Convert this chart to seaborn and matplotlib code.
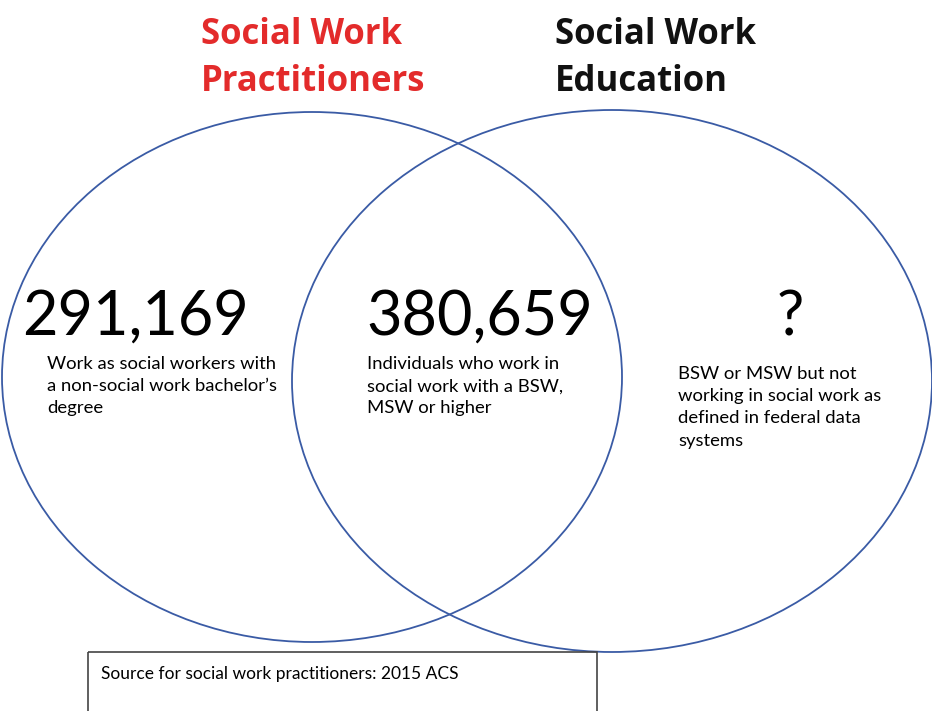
import matplotlib.pyplot as plt
import seaborn as sns
from matplotlib.patches import Ellipse, Rectangle

# Venn content
set_titles = ["Social Work\nPractitioners", "Social Work\nEducation"]
set_title_colors = ["#e32b2b", "#111111"]
region_counts = ["291,169", "380,659", "?"]
region_notes = [
    "Work as social workers with\na non-social work bachelor\u2019s\ndegree",
    "Individuals who work in\nsocial work with a BSW,\nMSW or higher",
    "BSW or MSW but not\nworking in social work as\ndefined in federal data\nsystems",
]
source_note = "Source for social work practitioners: 2015 ACS"

sns.set_theme(style="white")
plt.rcParams['font.family'] = ['Lato', 'DejaVu Sans']

fig = plt.figure(figsize=(9.32, 7.11), dpi=100)
ax = fig.add_axes([0, 0, 1, 1])
ax.set_xlim(0, 932)
ax.set_ylim(711, 0)
ax.set_axis_off()

edge = "#3a5ba5"
# two overlapping ellipses (pixel coords)
ax.add_patch(Ellipse((312, 377), 620, 530, fill=False, edgecolor=edge, linewidth=1.3))
ax.add_patch(Ellipse((612, 381), 640, 542, fill=False, edgecolor=edge, linewidth=1.3))

# set titles
for (x, y), txt, col in zip([(201, 17), (555, 17)], set_titles, set_title_colors):
    ax.text(x, y, txt, color=col, fontsize=25, fontweight='bold', ha='left', va='top',
            linespacing=1.42, family=['Open Sans', 'DejaVu Sans'])

# region counts and notes
count_pos = [(22, 335), (366, 335), (790, 335)]
note_pos = [(47, 356), (367, 356), (678, 366)]
for (cx, cy), (nx, ny), cnt, note in zip(count_pos, note_pos, region_counts, region_notes):
    ha = 'center' if cnt == "?" else 'left'
    ax.text(cx, cy, cnt, fontsize=44, ha=ha, va='baseline', color='black')
    ax.text(nx, ny, note, fontsize=13.3, ha='left', va='top', color='black', linespacing=1.48)

# source box
ax.add_patch(Rectangle((88, 652), 509, 80, fill=False, edgecolor='#444444', linewidth=1.2))
ax.text(101, 674, source_note, fontsize=12.5, ha='left', va='center', color='black')

fig.savefig("out.png", dpi=100)
